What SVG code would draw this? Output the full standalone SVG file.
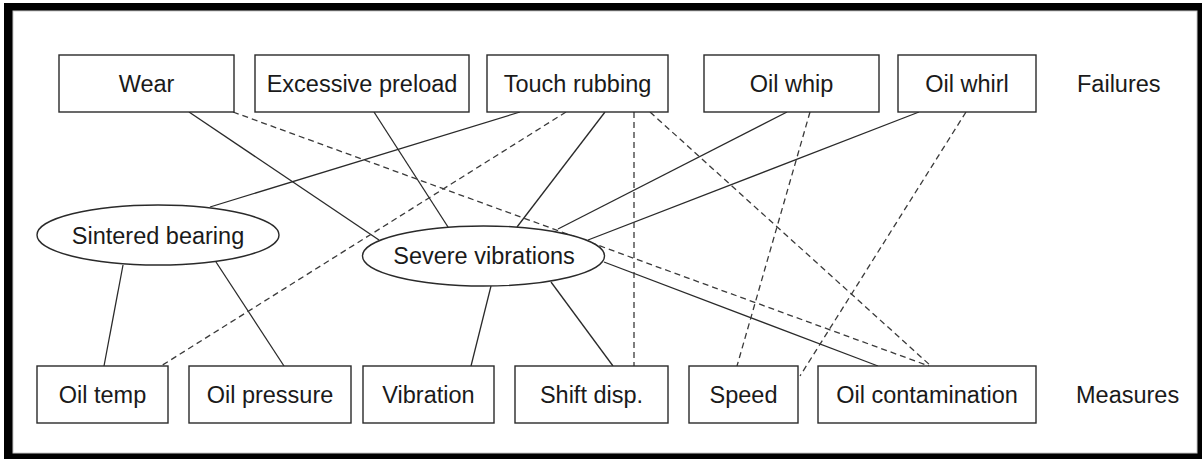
<svg xmlns="http://www.w3.org/2000/svg" width="1202" height="459" viewBox="0 0 1202 459">
  <style>
    .frame { fill: #000; }
    .panel { fill: #fff; stroke: #c8c8c8; stroke-width: 1; }
    .box { fill: #fff; stroke: #2a2a2a; stroke-width: 1.4; }
    .oval { fill: #fff; stroke: #2a2a2a; stroke-width: 1.4; }
    .lbl { font-family: "Liberation Sans", Arial, Helvetica, sans-serif; font-size: 23.5px; fill: #1a1a1a; text-anchor: middle; }
    .side { font-family: "Liberation Sans", Arial, Helvetica, sans-serif; font-size: 23.5px; fill: #1a1a1a; text-anchor: start; }
    .solid { stroke: #2a2a2a; stroke-width: 1.3; fill: none; }
    .dash { stroke: #3a3a3a; stroke-width: 1.3; fill: none; stroke-dasharray: 6 4; }
  </style>

  <!-- outer border -->
  <rect class="frame" x="4" y="3" width="1198" height="456"/>
  <rect class="panel" x="13" y="11" width="1184" height="442"/>

  <!-- links between failures, symptoms and measures -->
  <g id="connectors">
    <!-- solid links -->
    <line class="solid" x1="189" y1="112" x2="379" y2="240"/>
    <line class="solid" x1="374" y1="112" x2="448" y2="227"/>
    <line class="solid" x1="520" y1="112" x2="210" y2="207"/>
    <line class="solid" x1="605" y1="112" x2="517" y2="227"/>
    <line class="solid" x1="787" y1="112" x2="558" y2="229"/>
    <line class="solid" x1="919" y1="112" x2="588" y2="240"/>
    <line class="solid" x1="604" y1="262" x2="878" y2="366"/>
    <line class="solid" x1="491" y1="286" x2="471" y2="366"/>
    <line class="solid" x1="551" y1="282" x2="613" y2="366"/>
    <line class="solid" x1="123" y1="265" x2="104" y2="366"/>
    <line class="solid" x1="216" y1="262" x2="284" y2="366"/>
    <!-- dashed links -->
    <line class="dash" x1="233" y1="112" x2="929" y2="366"/>
    <line class="dash" x1="566" y1="112" x2="161" y2="366"/>
    <line class="dash" x1="634" y1="112" x2="634" y2="366"/>
    <line class="dash" x1="650" y1="112" x2="931" y2="366"/>
    <line class="dash" x1="810" y1="112" x2="737" y2="366"/>
    <line class="dash" x1="966" y1="112" x2="800" y2="376"/>
  </g>

  <!-- failures -->
  <g id="wear"><rect class="box" x="59" y="55" width="175" height="57"/><text class="lbl" x="146.5" y="92">Wear</text></g>
  <g id="excessive-preload"><rect class="box" x="255" y="55" width="214" height="57"/><text class="lbl" x="362" y="92">Excessive preload</text></g>
  <g id="touch-rubbing"><rect class="box" x="487" y="55" width="181" height="57"/><text class="lbl" x="577.5" y="92">Touch rubbing</text></g>
  <g id="oil-whip"><rect class="box" x="704" y="55" width="175" height="57"/><text class="lbl" x="791.5" y="92">Oil whip</text></g>
  <g id="oil-whirl"><rect class="box" x="898" y="55" width="138" height="57"/><text class="lbl" x="967" y="92">Oil whirl</text></g>
  <g id="failures-label"><text class="side" x="1077" y="92">Failures</text></g>

  <!-- symptoms -->
  <g id="sintered-bearing"><ellipse class="oval" cx="158" cy="235" rx="121" ry="30"/><text class="lbl" x="158" y="243.5">Sintered bearing</text></g>
  <g id="severe-vibrations"><ellipse class="oval" cx="483.5" cy="256" rx="121" ry="30"/><text class="lbl" x="484" y="264">Severe vibrations</text></g>

  <!-- measures -->
  <g id="oil-temp"><rect class="box" x="37" y="366" width="131" height="57"/><text class="lbl" x="102.5" y="403">Oil temp</text></g>
  <g id="oil-pressure"><rect class="box" x="189" y="366" width="162" height="57"/><text class="lbl" x="270" y="403">Oil pressure</text></g>
  <g id="vibration"><rect class="box" x="363" y="366" width="131" height="57"/><text class="lbl" x="428.5" y="403">Vibration</text></g>
  <g id="shift-disp"><rect class="box" x="515" y="366" width="153" height="57"/><text class="lbl" x="591.5" y="403">Shift disp.</text></g>
  <g id="speed"><rect class="box" x="689" y="366" width="109" height="57"/><text class="lbl" x="743.5" y="403">Speed</text></g>
  <g id="oil-contamination"><rect class="box" x="818" y="366" width="218" height="57"/><text class="lbl" x="927" y="403">Oil contamination</text></g>
  <g id="measures-label"><text class="side" x="1076" y="403">Measures</text></g>
</svg>
